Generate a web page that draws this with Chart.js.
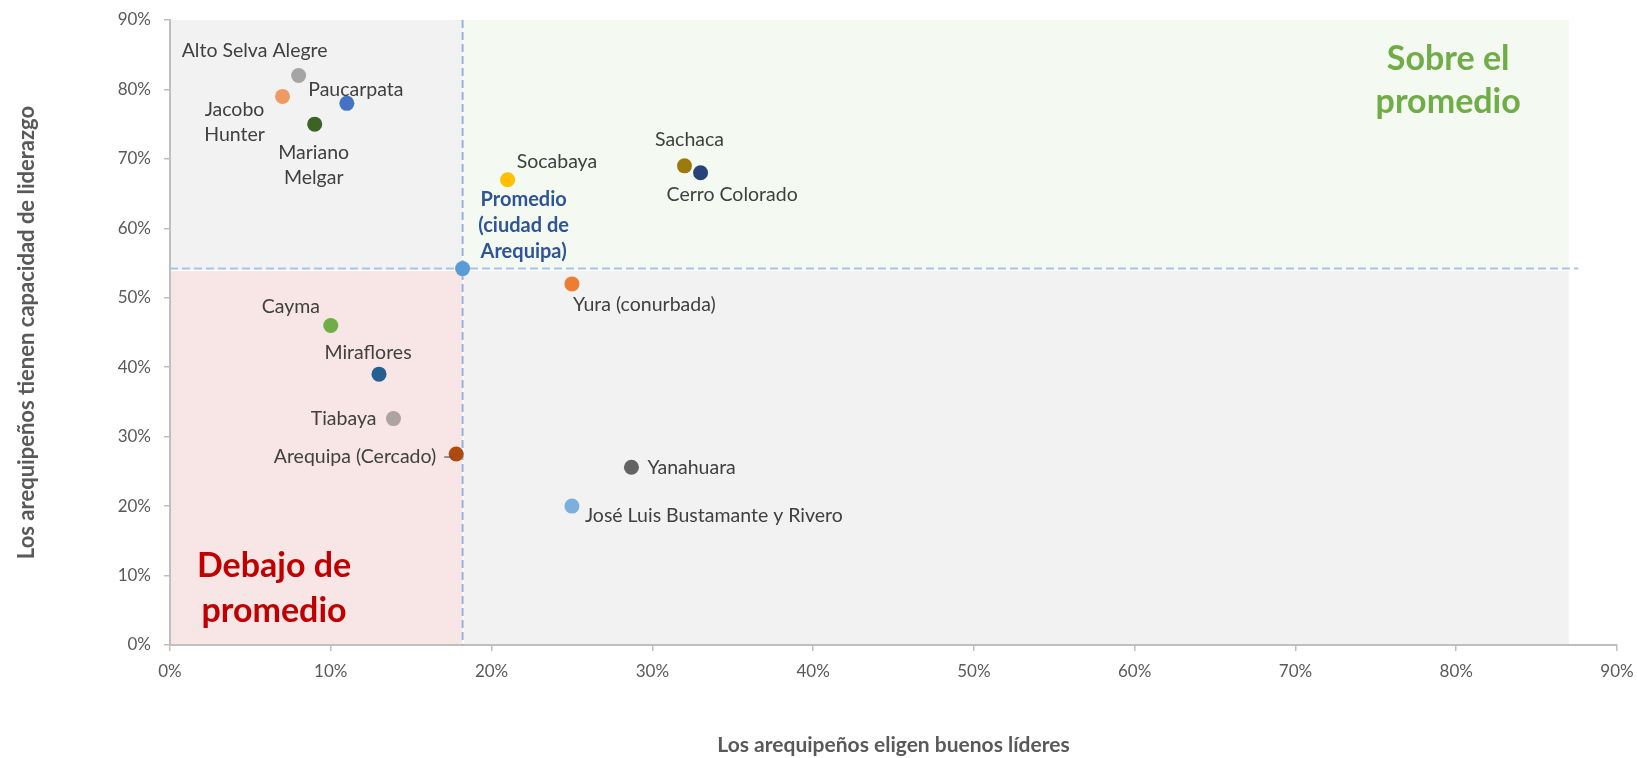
<!DOCTYPE html>
<html>
<head>
<meta charset="utf-8">
<script src="https://cdn.jsdelivr.net/npm/chart.js@4.4.0/dist/chart.umd.min.js"></script>
<style>
  html, body { margin: 0; padding: 0; background: #ffffff; }
  #wrap { width: 1637px; height: 758px; }
</style>
</head>
<body>
<div id="wrap"><canvas id="c" width="1637" height="758"></canvas></div>
<script>
// ---------- DATA ----------
const districts = [
  'Alto Selva Alegre', 'Jacobo Hunter', 'Paucarpata', 'Mariano Melgar',
  'Socabaya', 'Sachaca', 'Cerro Colorado', 'Yura (conurbada)',
  'Cayma', 'Miraflores', 'Tiabaya', 'Arequipa (Cercado)',
  'Yanahuara', 'José Luis Bustamante y Rivero'
];
// % "Los arequipeños eligen buenos líderes"
const eligenValues = [8, 7, 11, 9, 21, 32, 33, 25, 10, 13, 13.9, 17.8, 28.7, 25];
// % "Los arequipeños tienen capacidad de liderazgo"
const capacidadValues = [82, 79, 78, 75, 67, 69, 68, 52, 46, 39, 32.6, 27.5, 25.6, 20];
const averageLabel = ['Promedio', '(ciudad de', 'Arequipa)'];
const averageEligen = 18.2;
const averageCapacidad = 54.2;
const xTickValues = [0, 10, 20, 30, 40, 50, 60, 70, 80, 90];
const xTickLabels = ['0%', '10%', '20%', '30%', '40%', '50%', '60%', '70%', '80%', '90%'];
const yTickValues = [0, 10, 20, 30, 40, 50, 60, 70, 80, 90];
const yTickLabels = ['0%', '10%', '20%', '30%', '40%', '50%', '60%', '70%', '80%', '90%'];
const xAxisTitle = 'Los arequipeños eligen buenos líderes';
const yAxisTitle = 'Los arequipeños tienen capacidad de liderazgo';
const aboveText = ['Sobre el', 'promedio'];
const belowText = ['Debajo de', 'promedio'];

// ---------- STYLE / LAYOUT ----------
const pointColors = [
  '#A5A5A5', '#EE9A62', '#4472C4', '#3B6424',
  '#FFC000', '#9C7B0C', '#264478', '#ED7D31',
  '#70AD47', '#255E91', '#ADA3A3', '#B0490E',
  '#636363', '#7BAFDD'
];
const averageColor = '#5B9BD5';
const shadeLimitX = 87;      // quadrant shading ends here (x axis %)
const hLineLimitX = 87.6;    // horizontal dashed line ends here
const labelStyle = [
  { dx: -44, dy: -25, align: 'center' },
  { dx: -48, dy: 26, align: 'center', wrap: true, lh: 25 },
  { dx: 9, dy: -14, align: 'center' },
  { dx: -1, dy: 41, align: 'center', wrap: true, lh: 25.5 },
  { dx: 9, dy: -18, align: 'left' },
  { dx: 5, dy: -26, align: 'center' },
  { dx: -34, dy: 22, align: 'left' },
  { dx: 1, dy: 21, align: 'left' },
  { dx: -40, dy: -19, align: 'center' },
  { dx: -11, dy: -21, align: 'center' },
  { dx: -17, dy: 0, align: 'right' },
  { dx: -20, dy: 3, align: 'right', leader: true },
  { dx: 16, dy: 0, align: 'left' },
  { dx: 13, dy: 10, align: 'left' }
];
const FONT = 'Lato, "Open Sans", sans-serif';

const quadrantPlugin = {
  id: 'quadrants',
  beforeDraw(chart) {
    const { ctx, scales: { x, y } } = chart;
    const px = v => x.getPixelForValue(v), py = v => y.getPixelForValue(v);
    const rect = (x0, x1, y0, y1, col) => {
      ctx.fillStyle = col;
      ctx.fillRect(px(x0), py(y1), px(x1) - px(x0), py(y0) - py(y1));
    };
    ctx.save();
    rect(0, averageEligen, averageCapacidad, 90, '#F2F2F2');
    rect(averageEligen, shadeLimitX, averageCapacidad, 90, '#F4F9F2');
    rect(0, averageEligen, 0, averageCapacidad, '#F8E5E5');
    rect(averageEligen, shadeLimitX, 0, averageCapacidad, '#F2F2F2');
    ctx.fillStyle = '#FFFFFF';
    ctx.fillRect(px(averageEligen), py(90), 1.5, py(0) - py(90));
    ctx.fillRect(px(0), py(averageCapacidad) + 1, px(shadeLimitX) - px(0), 1.5);
    ctx.restore();
  },
  beforeDatasetsDraw(chart) {
    const { ctx, scales: { x, y } } = chart;
    ctx.save();
    ctx.lineWidth = 2;
    ctx.setLineDash([8, 4]);
    ctx.strokeStyle = '#A4C6EA';
    ctx.beginPath();
    ctx.moveTo(x.getPixelForValue(0), y.getPixelForValue(averageCapacidad));
    ctx.lineTo(x.getPixelForValue(hLineLimitX), y.getPixelForValue(averageCapacidad));
    ctx.stroke();
    ctx.strokeStyle = '#93B3DE';
    ctx.beginPath();
    ctx.moveTo(x.getPixelForValue(averageEligen), y.getPixelForValue(90));
    ctx.lineTo(x.getPixelForValue(averageEligen), y.getPixelForValue(0));
    ctx.stroke();
    ctx.restore();
  },
  afterDatasetsDraw(chart) {
    const { ctx, scales: { x, y } } = chart;
    ctx.save();
    ctx.textBaseline = 'middle';
    ctx.font = '19.5px ' + FONT;
    ctx.fillStyle = '#404040';
    districts.forEach((name, i) => {
      const st = labelStyle[i];
      const cx = x.getPixelForValue(eligenValues[i]);
      const cy = y.getPixelForValue(capacidadValues[i]);
      const lines = st.wrap ? name.split(' ') : [name];
      const lh = st.lh || 25;
      ctx.textAlign = st.align;
      lines.forEach((ln, k) => {
        const yy = cy + st.dy + (k - (lines.length - 1) / 2) * lh;
        ctx.fillText(ln, cx + st.dx, yy);
      });
      if (st.leader) {
        ctx.strokeStyle = '#595959';
        ctx.lineWidth = 1.2;
        ctx.beginPath();
        ctx.moveTo(cx + st.dx + 8, cy + st.dy);
        ctx.lineTo(cx - 3, cy + st.dy);
        ctx.stroke();
      }
    });
    ctx.font = 'bold 20px ' + FONT;
    ctx.fillStyle = '#2F5597';
    ctx.textAlign = 'center';
    const ax = x.getPixelForValue(averageEligen) + 61;
    const ay = y.getPixelForValue(averageCapacidad) - 43;
    averageLabel.forEach((ln, k) => {
      ctx.fillText(ln, ax, ay + (k - 1) * 25.8);
    });
    ctx.textBaseline = 'alphabetic';
    ctx.font = 'bold 34px ' + FONT;
    ctx.fillStyle = '#70AD47';
    aboveText.forEach((ln, k) => {
      ctx.fillText(ln, x.getPixelForValue(79.5), y.getPixelForValue(82.8) + k * 43);
    });
    ctx.fillStyle = '#C00000';
    belowText.forEach((ln, k) => {
      ctx.fillText(ln, x.getPixelForValue(6.47), y.getPixelForValue(9.84) + k * 45);
    });
    ctx.restore();
  }
};

const axisCommon = (vals, labels, title, isX) => ({
  type: 'linear',
  min: 0,
  max: 90,
  afterBuildTicks: s => { s.ticks = vals.map(v => ({ value: v })); },
  afterFit: s => {
    if (isX) s.height = 113; else s.width = 170;
    s.paddingTop = 0; s.paddingBottom = 0; s.paddingLeft = 0; s.paddingRight = 0;
  },
  ticks: {
    callback: (v) => labels[vals.indexOf(v)],
    font: { family: FONT, size: 17 },
    color: '#595959',
    padding: isX ? 10 : 13,
    autoSkip: false,
    maxRotation: 0
  },
  grid: {
    drawOnChartArea: false,
    drawTicks: true,
    tickLength: 6,
    color: '#BFBFBF',
    lineWidth: 1.5
  },
  border: { display: true, color: '#BFBFBF', width: 2 },
  title: {
    display: true,
    text: title,
    font: { family: FONT, size: isX ? 21 : 22, weight: 'bold' },
    color: '#595959',
    padding: isX ? { top: -6, bottom: 0 } : { top: 14, bottom: 0 }
  }
});

new Chart(document.getElementById('c'), {
  type: 'scatter',
  data: {
    datasets: [
      {
        label: 'Distritos',
        data: districts.map((d, i) => ({ x: eligenValues[i], y: capacidadValues[i] })),
        pointBackgroundColor: pointColors,
        pointBorderWidth: 0,
        pointRadius: 7.5,
        pointHoverRadius: 7.5
      },
      {
        label: 'Promedio',
        data: [{ x: averageEligen, y: averageCapacidad }],
        pointBackgroundColor: averageColor,
        pointBorderWidth: 0,
        pointRadius: 7.5
      }
    ]
  },
  options: {
    responsive: false,
    animation: false,
    devicePixelRatio: 1,
    layout: { padding: { top: 20, right: 20, left: 0, bottom: 0 } },
    plugins: { legend: { display: false }, tooltip: { enabled: false } },
    scales: {
      x: axisCommon(xTickValues, xTickLabels, xAxisTitle, true),
      y: axisCommon(yTickValues, yTickLabels, yAxisTitle, false)
    }
  },
  plugins: [quadrantPlugin]
});
</script>
</body>
</html>
